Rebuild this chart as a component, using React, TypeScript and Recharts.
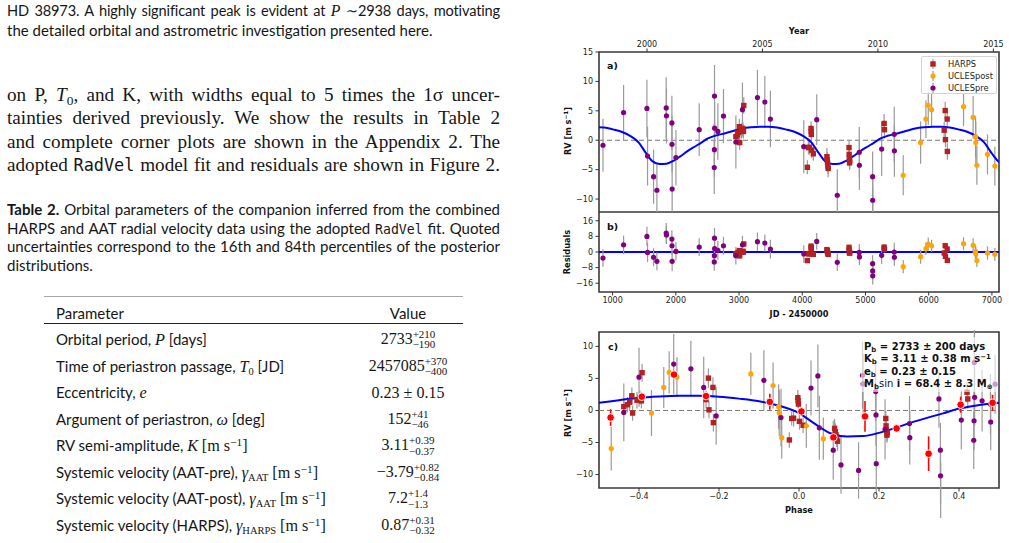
import React from 'react';
import { ComposedChart, Scatter, Line, XAxis, YAxis, ErrorBar, ReferenceLine, ReferenceArea, Legend } from 'recharts';

// ---------------- data ----------------
const PERIOD = 2733;
const PHASE_EPOCH = 1414; // JD - 2450000 of phase 0 (panel c)
const JD_DOMAIN = [785, 7112];
const RV_DOMAIN_A = [-12.2, 15];
const RES_DOMAIN = [-20.5, 20.5];
const RV_DOMAIN_C = [-12.1, 12.25];
const PHASE_DOMAIN = [-0.5, 0.5];

const YEAR_TICKS = [2000, 2005, 2010, 2015];
const JD_TICKS = [1000, 2000, 3000, 4000, 5000, 6000, 7000];
const RV_TICKS_A = [-10, -5, 0, 5, 10, 15];
const RES_TICKS = [-16, -8, 0, 8, 16];
const RV_TICKS_C = [-10, -5, 0, 5, 10];
const PHASE_TICKS = [-0.4, -0.2, 0, 0.2, 0.4];

const harpsJd = [2950, 2975, 2990, 3005, 3010, 3040, 3060, 3070, 3075, 4081, 4097, 4110, 4139, 4141, 4143, 4150, 4175, 4390, 4395, 4400, 4405, 4410, 4740, 4742, 4745, 4748, 4750, 5295, 5300, 6245, 6261, 6265, 6292, 6295];
const harpsRv = [0.6, 0.9, 1.3, 2.3, -0.4, 1.6, 2.0, 1.5, 5.9, -4.6, -1.25, -1.2, 2.0, 1.5, 1.0, -1.7, -2.3, -2.8, -3.3, -3.8, -4.4, -4.8, -1.25, -2.4, -3.1, -3.85, -3.5, 2.85, 1.8, 1.7, 5.05, 0.1, 3.6, -1.9];
const harpsErr = [1.3, 1.2, 1.4, 1.3, 1.2, 1.3, 1.1, 1.2, 1.4, 1.2, 1.1, 1.3, 1.2, 1.1, 1.2, 1.3, 1.2, 1.5, 1.3, 1.4, 1.3, 1.5, 1.2, 1.3, 1.4, 1.2, 1.3, 1.6, 1.5, 1.4, 1.5, 1.3, 1.6, 1.4];
const harpsRes = [-0.9, -0.6, -0.3, 0.7, -2.0, 0.1, 0.4, -0.1, 4.1, -4.4, -1.0, -0.8, 3.0, 2.2, 1.5, -1.0, -1.2, 1.2, 0.6, 0.0, -0.7, -1.2, 2.4, 1.0, 0.2, -0.6, -0.3, 2.5, 1.3, -0.5, 3.2, -2.2, 1.5, -4.3];

const postJd = [5597, 5872, 5956, 5993, 6046, 6551, 6703, 6741, 6745, 6762, 6930, 7046];
const postRv = [-5.95, -0.4, 3.6, 5.95, 5.2, 5.7, 3.9, 0.6, -0.4, -4.25, -2.4, -4.4];
const postErr = [3.4, 3.6, 3.2, 3.3, 3.1, 3.3, 3.6, 3.5, 3.6, 3.3, 3.4, 3.3];
const postRes = [-7.5, -2.4, 1.7, 4.1, 3.2, 4.25, 3.4, 0.3, -1.0, -4.4, -0.5, -1.2];

const preJd = [848, 1174, 1543, 1553, 1648, 1701, 1848, 1852, 1938, 1940, 1942, 2002, 2370, 2608, 2610, 2612, 2614, 2665, 2754, 2950, 3054, 3291, 3408, 3496, 4024, 4229, 4554, 4902, 4904, 5113, 5114, 5115, 5256, 5455, 5457];
const preRv = [-0.85, 4.7, 5.4, -2.7, -6.2, -8.5, 5.5, 4.15, 2.95, -0.7, -8.3, -2.95, 1.8, -4.65, -1.6, 7.5, 2.05, 1.5, 4.1, -0.3, 5.2, 7.25, 6.5, 3.6, -1.1, 3.5, -9.35, -2.05, -4.25, -6.2, -10.2, -12.7, -1.5, 1.0, -1.8];
const preErr = [4.5, 4.7, 4.9, 5.0, 4.6, 4.5, 5.2, 4.7, 4.6, 4.8, 4.9, 4.7, 4.5, 4.5, 4.6, 5.3, 4.5, 4.8, 4.6, 4.5, 4.6, 4.7, 4.4, 4.8, 4.5, 4.3, 4.4, 4.3, 4.2, 4.3, 4.4, 4.5, 4.6, 4.7, 4.4];
const preRes = [-3.1, 3.7, 8.0, -0.2, -2.7, -4.8, 9.7, 8.7, 6.6, 3.2, -4.8, 0.3, 2.5, -5.1, -1.9, 7.1, 1.7, 0.85, 3.2, -1.9, 3.7, 5.3, 4.6, 1.5, -1.0, 5.4, -5.3, -0.2, -2.5, -6.0, -9.7, -12.2, -1.7, 0.0, -2.7];

const modelJd = [785, 867, 1004, 1141, 1277, 1414, 1523, 1633, 1742, 1851, 1961, 2070, 2179, 2289, 2398, 2507, 2617, 2781, 2918, 3054, 3191, 3328, 3464, 3601, 3737, 3874, 4010, 4147, 4256, 4366, 4475, 4584, 4694, 4803, 4912, 5022, 5131, 5240, 5350, 5514, 5651, 5787, 5924, 6061, 6197, 6334, 6470, 6607, 6743, 6880, 6989, 7099, 7112];
const modelRv = [2.2, 2.15, 1.85, 1.45, 0.75, -0.4, -2.1, -3.6, -4.05, -4.0, -3.5, -2.75, -1.9, -1.15, -0.45, 0.3, 0.75, 1.2, 1.6, 2.0, 2.2, 2.3, 2.3, 2.15, 1.85, 1.45, 0.75, -0.4, -2.1, -3.6, -4.05, -4.0, -3.5, -2.75, -1.9, -1.15, -0.45, 0.3, 0.75, 1.2, 1.6, 2.0, 2.2, 2.3, 2.3, 2.15, 1.85, 1.45, 0.75, -0.4, -2.1, -3.6, -3.75];

const modelPhase = [-0.5, -0.45, -0.4, -0.35, -0.3, -0.25, -0.2, -0.15, -0.1, -0.05, 0, 0.04, 0.08, 0.12, 0.16, 0.2, 0.24, 0.28, 0.32, 0.36, 0.4, 0.44, 0.5];
const modelPhaseRv = [1.2, 1.6, 2.0, 2.2, 2.3, 2.3, 2.15, 1.85, 1.45, 0.75, -0.4, -2.1, -3.6, -4.05, -4.0, -3.5, -2.75, -1.9, -1.15, -0.45, 0.3, 0.75, 1.2];

const binPhase = [-0.471, -0.393, -0.3125, -0.2325, -0.073, 0.006, 0.086, 0.165, 0.244, 0.324, 0.404, 0.484];
const binRv = [-1.1, 2.15, 5.6, 2.25, 1.35, -0.15, -4.2, -0.93, -2.8, -6.75, 0.9, 1.2];
const binErr = [1.3, 0.6, 0.5, 0.6, 1.25, 0.6, 0.6, 2.4, 0.4, 2.7, 1.25, 1.25];

const fitLines = ['2733 ± 200 days', '3.11 ± 0.38 m s', '0.23 ± 0.15', '68.4 ± 8.3 M'];

const paramBase = ['2733', '2457085', '0.23 ± 0.15', '152', '3.11', '−3.79', '7.2', '0.87'];
const paramUp = ['+210', '+370', '', '+41', '+0.39', '+0.82', '+1.4', '+0.31'];
const paramDown = ['−190', '−400', '', '−46', '−0.37', '−0.84', '−1.3', '−0.32'];

// ---------------- styles ----------------
const HARPS_C = '#b22222';
const POST_C = '#ffa500';
const PRE_C = '#800080';
const EB_C = '#9a9a9a';
const PLOT_FONT = "'DejaVu Sans', sans-serif";
const SANS = "Lato, 'Noto Sans', sans-serif";
const SERIF = "'Liberation Serif', 'DejaVu Serif', serif";
const MONO = "'DejaVu Sans Mono', 'Liberation Mono', monospace";
const TICK = { fontSize: 8, fontFamily: PLOT_FONT, fill: '#222' };
const TICKLINE = { stroke: '#333', strokeWidth: 1 };
const FRAME_C = '#3a3a3a';
const INK = '#161616';

const mk = (xs: number[], ys: number[], es?: number[]) => xs.map((x, i) => ({ x, y: ys[i], e: es ? es[i] : 0 }));
const fold = (jd: number) => {
  let p = ((jd - PHASE_EPOCH) / PERIOD) % 1;
  if (p < 0) p += 1;
  if (p >= 0.5) p -= 1;
  return p;
};
const mkFold = (xs: number[], ys: number[], es: number[]) => xs.map((x, i) => ({ x: fold(x), y: ys[i], e: es[i] }));
const minus = (s: string) => s.replace('-', '\u2212');
const fmtInt = (v: number) => minus(String(v));
const fmtPhase = (v: number) => minus(v.toFixed(1));
const yearToJd = (y: number) => (y - 2000) * 365.25 + 1544.5;
const yearTickJd = YEAR_TICKS.map(yearToJd);
const jdToYearLabel = (v: number) => String(Math.round((v - 1544.5) / 365.25 + 2000));

const harpsA = mk(harpsJd, harpsRv, harpsErr);
const postA = mk(postJd, postRv, postErr);
const preA = mk(preJd, preRv, preErr);
const harpsB = mk(harpsJd, harpsRes, harpsErr);
const postB = mk(postJd, postRes, postErr);
const preB = mk(preJd, preRes, preErr);
const harpsC = mkFold(harpsJd, harpsRv, harpsErr);
const postC = mkFold(postJd, postRv, postErr);
const preC = mkFold(preJd, preRv, preErr);
const curveA = mk(modelJd, modelRv);
const curveC = mk(modelPhase, modelPhaseRv);
const bins = mk(binPhase, binRv, binErr);

const squareShape = (p: any) =>
  p.cx == null ? <g /> : <rect x={p.cx - 2.7} y={p.cy - 2.7} width={5.4} height={5.4} fill={HARPS_C} />;
const dotShape = (color: string) => (p: any) =>
  p.cx == null ? <g /> : <circle cx={p.cx} cy={p.cy} r={2.6} fill={color} />;
const binShape = (p: any) =>
  p.cx == null ? <g /> : <circle cx={p.cx} cy={p.cy} r={3.8} fill="#ff0000" stroke="#ffffff" strokeWidth={0.9} />;

const legendItems = [
  { name: 'HARPS', color: HARPS_C, square: true },
  { name: 'UCLESpost', color: POST_C, square: false },
  { name: 'UCLESpre', color: PRE_C, square: false },
];

function LegendBox() {
  return (
    <div style={{ position: 'relative', width: 76, height: 38, boxSizing: 'border-box', border: '1px solid #d4d4d4', borderRadius: 2, background: 'rgba(255,255,255,0.85)' }}>
      {legendItems.map((it, i) => (
        <div key={it.name} style={{ position: 'absolute', left: 0, top: 1 + i * 12, height: 12, width: 76 }}>
          <svg width={12} height={12} style={{ position: 'absolute', left: 5, top: 0 }}>
            <line x1={6} x2={6} y1={1} y2={11} stroke={EB_C} strokeWidth={1.2} />
            {it.square ? <rect x={3.3} y={3.3} width={5.4} height={5.4} fill={it.color} /> : <circle cx={6} cy={6} r={2.6} fill={it.color} />}
          </svg>
          <span style={{ position: 'absolute', left: 26, top: 0, lineHeight: '12px', fontSize: 8.3, fontFamily: PLOT_FONT, color: '#222', whiteSpace: 'nowrap' }}>{it.name}</span>
        </div>
      ))}
    </div>
  );
}

const ebProps = { dataKey: 'e', direction: 'y' as const, width: 0, stroke: EB_C, strokeWidth: 1.2 };

function PanelA() {
  return (
    <ComposedChart width={469} height={212} margin={{ top: 0, right: 10, bottom: 0, left: 0 }}>
      <XAxis xAxisId="t" type="number" dataKey="x" orientation="top" domain={JD_DOMAIN} allowDataOverflow ticks={yearTickJd} interval={0}
        tickFormatter={jdToYearLabel} height={52} tick={TICK} tickLine={TICKLINE} tickSize={3.5} tickMargin={2} axisLine={false} />
      <YAxis yAxisId="l" type="number" dataKey="y" domain={RV_DOMAIN_A} allowDataOverflow ticks={RV_TICKS_A} interval={0}
        tickFormatter={fmtInt} width={59} tick={TICK} tickLine={TICKLINE} tickSize={3.5} tickMargin={2.5} axisLine={false} />
      <ReferenceLine xAxisId="t" yAxisId="l" y={0} stroke="#7a7a7a" strokeWidth={1.2} strokeDasharray="5 3" />
      <Scatter xAxisId="t" yAxisId="l" name="HARPS" data={harpsA} shape={squareShape} isAnimationActive={false}>
        <ErrorBar {...ebProps} />
      </Scatter>
      <Scatter xAxisId="t" yAxisId="l" name="UCLESpost" data={postA} shape={dotShape(POST_C)} isAnimationActive={false}>
        <ErrorBar {...ebProps} />
      </Scatter>
      <Scatter xAxisId="t" yAxisId="l" name="UCLESpre" data={preA} shape={dotShape(PRE_C)} isAnimationActive={false}>
        <ErrorBar {...ebProps} />
      </Scatter>
      <Line xAxisId="t" yAxisId="l" data={curveA} dataKey="y" type="monotone" stroke="#0000ff" strokeWidth={2} dot={false} activeDot={false} isAnimationActive={false} legendType="none" />
      <ReferenceArea xAxisId="t" yAxisId="l" x1={JD_DOMAIN[0]} x2={JD_DOMAIN[1]} y1={RV_DOMAIN_A[0]} y2={RV_DOMAIN_A[1]} fill="none" fillOpacity={0} stroke={FRAME_C} strokeWidth={1.6} ifOverflow="visible" />
      <Legend layout="horizontal" verticalAlign="middle" align="center"
        wrapperStyle={{ position: 'absolute', left: 381, top: 56, width: 76, height: 38 }}
        content={() => <LegendBox />} />
    </ComposedChart>
  );
}

function PanelB() {
  return (
    <ComposedChart width={469} height={110} margin={{ top: 0, right: 10, bottom: 0, left: 0 }}>
      <XAxis xAxisId="b" type="number" dataKey="x" orientation="bottom" domain={JD_DOMAIN} allowDataOverflow ticks={JD_TICKS} interval={0}
        height={30} tick={TICK} tickLine={TICKLINE} tickSize={3.5} tickMargin={1.5} axisLine={false} />
      <YAxis yAxisId="l" type="number" dataKey="y" domain={RES_DOMAIN} allowDataOverflow ticks={RES_TICKS} interval={0}
        tickFormatter={fmtInt} width={59} tick={TICK} tickLine={TICKLINE} tickSize={3.5} tickMargin={2.5} axisLine={false} />
      <ReferenceLine xAxisId="b" yAxisId="l" y={0} stroke="#0000ff" strokeWidth={2.2} />
      <Scatter xAxisId="b" yAxisId="l" name="HARPS" data={harpsB} shape={squareShape} isAnimationActive={false}>
        <ErrorBar {...ebProps} />
      </Scatter>
      <Scatter xAxisId="b" yAxisId="l" name="UCLESpost" data={postB} shape={dotShape(POST_C)} isAnimationActive={false}>
        <ErrorBar {...ebProps} />
      </Scatter>
      <Scatter xAxisId="b" yAxisId="l" name="UCLESpre" data={preB} shape={dotShape(PRE_C)} isAnimationActive={false}>
        <ErrorBar {...ebProps} />
      </Scatter>
      <ReferenceArea xAxisId="b" yAxisId="l" x1={JD_DOMAIN[0]} x2={JD_DOMAIN[1]} y1={RES_DOMAIN[0]} y2={RES_DOMAIN[1]} fill="none" fillOpacity={0} stroke={FRAME_C} strokeWidth={1.6} ifOverflow="visible" />
    </ComposedChart>
  );
}

function PanelC() {
  return (
    <ComposedChart width={469} height={188} margin={{ top: 2, right: 10, bottom: 0, left: 0 }}>
      <XAxis xAxisId="b" type="number" dataKey="x" orientation="bottom" domain={PHASE_DOMAIN} allowDataOverflow ticks={PHASE_TICKS} interval={0}
        tickFormatter={fmtPhase} height={30} tick={TICK} tickLine={TICKLINE} tickSize={3.5} tickMargin={1.5} axisLine={false} />
      <YAxis yAxisId="l" type="number" dataKey="y" domain={RV_DOMAIN_C} allowDataOverflow ticks={RV_TICKS_C} interval={0}
        tickFormatter={fmtInt} width={59} tick={TICK} tickLine={TICKLINE} tickSize={3.5} tickMargin={2.5} axisLine={false} />
      <ReferenceLine xAxisId="b" yAxisId="l" y={0} stroke="#7a7a7a" strokeWidth={1.2} strokeDasharray="5 3" />
      <Scatter xAxisId="b" yAxisId="l" name="HARPS" data={harpsC} shape={squareShape} isAnimationActive={false}>
        <ErrorBar {...ebProps} />
      </Scatter>
      <Scatter xAxisId="b" yAxisId="l" name="UCLESpost" data={postC} shape={dotShape(POST_C)} isAnimationActive={false}>
        <ErrorBar {...ebProps} />
      </Scatter>
      <Scatter xAxisId="b" yAxisId="l" name="UCLESpre" data={preC} shape={dotShape(PRE_C)} isAnimationActive={false}>
        <ErrorBar {...ebProps} />
      </Scatter>
      <Line xAxisId="b" yAxisId="l" data={curveC} dataKey="y" type="monotone" stroke="#0000ff" strokeWidth={2} dot={false} activeDot={false} isAnimationActive={false} legendType="none" />
      <Scatter xAxisId="b" yAxisId="l" name="binned" data={bins} shape={binShape} isAnimationActive={false}>
        <ErrorBar dataKey="e" direction="y" width={0} stroke="#ff0000" strokeWidth={1.6} />
      </Scatter>
      <ReferenceArea xAxisId="b" yAxisId="l" x1={PHASE_DOMAIN[0]} x2={PHASE_DOMAIN[1]} y1={RV_DOMAIN_C[0]} y2={RV_DOMAIN_C[1]} fill="none" fillOpacity={0} stroke={FRAME_C} strokeWidth={1.6} ifOverflow="visible" />
    </ComposedChart>
  );
}

// ---------------- text helpers ----------------
const C = ({ x, y, children, style }: any) => (
  <div style={{ position: 'absolute', left: x, top: y, transform: 'translate(-50%,-50%)', whiteSpace: 'nowrap', ...style }}>{children}</div>
);
const CR = ({ x, y, children, style }: any) => (
  <div style={{ position: 'absolute', left: x, top: y, transform: 'translate(-50%,-50%) rotate(-90deg)', whiteSpace: 'nowrap', ...style }}>{children}</div>
);
const L = ({ x, y, children, style }: any) => (
  <div style={{ position: 'absolute', left: x, top: y, transform: 'translateY(-50%)', whiteSpace: 'nowrap', ...style }}>{children}</div>
);
const TextLine = ({ cy, lh, size, font, justify, children, spacing }: any) => (
  <div style={{ position: 'absolute', left: 7, top: cy - lh / 2, width: 493, height: lh, lineHeight: `${lh}px`, fontSize: size, fontFamily: font, color: INK, letterSpacing: spacing || 0, textAlign: justify ? 'justify' : 'left', textAlignLast: justify ? 'justify' : 'left', overflow: 'visible' } as any}>{children}</div>
);
const Sub = ({ children }: any) => <span style={{ fontSize: '0.7em', position: 'relative', top: '0.3em', lineHeight: 0 }}>{children}</span>;
const Sup = ({ children }: any) => <span style={{ fontSize: '0.7em', position: 'relative', top: '-0.45em', lineHeight: 0 }}>{children}</span>;
const Mono = ({ children }: any) => <span style={{ fontFamily: MONO, fontSize: '0.88em' }}>{children}</span>;
const MI = ({ children }: any) => <i style={{ fontFamily: SERIF, fontSize: '1.08em' }}>{children}</i>;
const Unit = () => <span style={{ fontFamily: SERIF, fontSize: '1.08em' }}>[m s<Sup>−1</Sup>]</span>;

const paramLabels = [
  <>Orbital period, <MI>P</MI> [days]</>,
  <>Time of periastron passage, <MI>T</MI><span style={{ fontFamily: SERIF }}><Sub>0</Sub></span> [JD]</>,
  <>Eccentricity, <MI>e</MI></>,
  <>Argument of periastron, <MI>ω</MI> [deg]</>,
  <>RV semi-amplitude, <MI>K</MI> <Unit /></>,
  <>Systemic velocity (AAT-pre), <MI>γ</MI><span style={{ fontFamily: SERIF }}><Sub>AAT</Sub></span> <Unit /></>,
  <>Systemic velocity (AAT-post), <MI>γ</MI><span style={{ fontFamily: SERIF }}><Sub>AAT</Sub></span> <Unit /></>,
  <>Systemic velocity (HARPS), <MI>γ</MI><span style={{ fontFamily: SERIF }}><Sub>HARPS</Sub></span> <Unit /></>,
];
const rowCenters = [340, 366.7, 393.3, 419.8, 446.3, 472.8, 499.3, 525.8];

function Value({ i }: { i: number }) {
  if (!paramUp[i]) return <span style={{ fontFamily: SERIF, fontSize: 16 }}>{paramBase[i]}</span>;
  return (
    <span style={{ fontFamily: SERIF, fontSize: 16, whiteSpace: 'nowrap', lineHeight: '20px' }}>
      {paramBase[i]}
      <span style={{ display: 'inline-block', verticalAlign: 'middle', fontSize: 11, lineHeight: '10.5px', textAlign: 'left', position: 'relative', top: -1 }}>
        <span style={{ display: 'block' }}>{paramUp[i]}</span>
        <span style={{ display: 'block' }}>{paramDown[i]}</span>
      </span>
    </span>
  );
}

const plotText = { fontFamily: PLOT_FONT, color: '#111' };
const SANS_SIZE = 15;

export default function App() {
  return (
    <div style={{ position: 'absolute', left: 0, top: 0, width: 1009, height: 543, background: '#fff', overflow: 'hidden' }}>
      {/* left column text */}
      <TextLine cy={11} lh={18} size={14.6} font={SANS} justify spacing={-0.15}>
        HD 38973. A highly significant peak is evident at <MI>P</MI> <span style={{ fontFamily: SERIF }}>∼</span>2938 days, motivating
      </TextLine>
      <TextLine cy={30} lh={18} size={SANS_SIZE} font={SANS}>
        the detailed orbital and astrometric investigation presented here.
      </TextLine>

      <TextLine cy={94.3} lh={23.5} size={19.2} font={SERIF} justify>
        on P, <i>T</i><Sub>0</Sub>, and K, with widths equal to 5 times the 1σ uncer-
      </TextLine>
      <TextLine cy={118} lh={23.5} size={19.2} font={SERIF} justify>
        tainties derived previously. We show the results in Table 2
      </TextLine>
      <TextLine cy={141.7} lh={23.5} size={19.2} font={SERIF} justify>
        and complete corner plots are shown in the Appendix 2. The
      </TextLine>
      <TextLine cy={165} lh={23.5} size={19.2} font={SERIF} justify>
        adopted <Mono>RadVel</Mono> model fit and residuals are shown in Figure 2.
      </TextLine>

      <TextLine cy={209.3} lh={18.8} size={SANS_SIZE} font={SANS} justify>
        <b>Table 2.</b> Orbital parameters of the companion inferred from the combined
      </TextLine>
      <TextLine cy={228} lh={18.8} size={SANS_SIZE} font={SANS} justify>
        HARPS and AAT radial velocity data using the adopted <Mono>RadVel</Mono> fit. Quoted
      </TextLine>
      <TextLine cy={246.8} lh={18.8} size={SANS_SIZE} font={SANS} justify>
        uncertainties correspond to the 16th and 84th percentiles of the posterior
      </TextLine>
      <TextLine cy={265.6} lh={18.8} size={SANS_SIZE} font={SANS}>
        distributions.
      </TextLine>

      {/* table */}
      <div style={{ position: 'absolute', left: 44, top: 295.5, width: 419, borderTop: '1px solid #a8a8a8' }} />
      <div style={{ position: 'absolute', left: 44, top: 322.5, width: 419, borderTop: '1.4px solid #222' }} />
      <L x={56} y={313} style={{ fontFamily: SANS, fontSize: SANS_SIZE, color: INK }}>Parameter</L>
      <C x={408} y={313} style={{ fontFamily: SANS, fontSize: SANS_SIZE, color: INK }}>Value</C>
      {paramLabels.map((lab, i) => (
        <L key={'p' + i} x={56} y={rowCenters[i]} style={{ fontFamily: SANS, fontSize: SANS_SIZE, color: INK }}>{lab}</L>
      ))}
      {paramBase.map((_, i) => (
        <C key={'v' + i} x={408} y={rowCenters[i]} style={{ color: INK }}><Value i={i} /></C>
      ))}

      {/* charts */}
      <div style={{ position: 'absolute', left: 540, top: 0 }}><PanelA /></div>
      <div style={{ position: 'absolute', left: 540, top: 212 }}><PanelB /></div>
      <div style={{ position: 'absolute', left: 540, top: 330 }}><PanelC /></div>

      {/* chart labels */}
      <C x={799} y={31} style={{ ...plotText, fontSize: 8.2, fontWeight: 'bold' }}>Year</C>
      <C x={799} y={314} style={{ ...plotText, fontSize: 8.2, fontWeight: 'bold' }}>JD - 2450000</C>
      <C x={799} y={510} style={{ ...plotText, fontSize: 8.2, fontWeight: 'bold' }}>Phase</C>
      <CR x={568} y={131} style={{ ...plotText, fontSize: 8.2, fontWeight: 'bold' }}>RV [m s<Sup>−1</Sup>]</CR>
      <CR x={567} y={252} style={{ ...plotText, fontSize: 8.2, fontWeight: 'bold' }}>Residuals</CR>
      <CR x={568} y={413} style={{ ...plotText, fontSize: 8.2, fontWeight: 'bold' }}>RV [m s<Sup>−1</Sup>]</CR>
      <L x={607} y={65} style={{ ...plotText, fontSize: 9.5, fontWeight: 'bold' }}>a)</L>
      <L x={607} y={226} style={{ ...plotText, fontSize: 9.5, fontWeight: 'bold' }}>b)</L>
      <L x={608} y={346} style={{ ...plotText, fontSize: 9.5, fontWeight: 'bold' }}>c)</L>

      {/* fit annotation */}
      <div style={{ position: 'absolute', left: 861, top: 337, width: 137, height: 55, background: 'rgba(255,255,255,0.6)' }} />
      <L x={864} y={345.7} style={{ ...plotText, fontSize: 10, fontWeight: 'bold' }}>P<Sub>b</Sub> = {fitLines[0]}</L>
      <L x={864} y={358.2} style={{ ...plotText, fontSize: 10, fontWeight: 'bold' }}>K<Sub>b</Sub> = {fitLines[1]}<Sup>−1</Sup></L>
      <L x={864} y={370.6} style={{ ...plotText, fontSize: 10, fontWeight: 'bold' }}>e<Sub>b</Sub> = {fitLines[2]}</L>
      <L x={864} y={382.8} style={{ ...plotText, fontSize: 10, fontWeight: 'bold' }}>M<Sub>b</Sub><span style={{ fontWeight: 'normal' }}>sin</span> i = {fitLines[3]}<Sub>⊕</Sub></L>
    </div>
  );
}
